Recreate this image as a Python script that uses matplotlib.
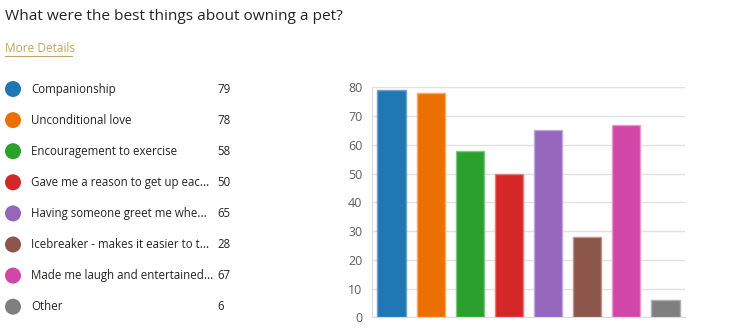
import matplotlib
matplotlib.use('Agg')
from matplotlib import pyplot as plt
from matplotlib.patches import Ellipse

# survey answers
labels = ['Companionship', 'Unconditional love', 'Encouragement to exercise',
          'Gave me a reason to get up eac...', 'Having someone greet me whe...',
          'Icebreaker - makes it easier to t...', 'Made me laugh and entertained...',
          'Other']
counts = [79, 78, 58, 50, 65, 28, 67, 6]
colors = ['#1f77b4', '#ec7000', '#2ca02c', '#d62728',
          '#9467bd', '#8c564b', '#d147a8', '#7f7f7f']
edge_colors = ['#6fa3cf', '#f5a860', '#80c680', '#e87a7a',
               '#c0a8dc', '#b89890', '#e89ad0', '#b0b0b0']
yticks = [0, 10, 20, 30, 40, 50, 60, 70, 80]

plt.rcParams['font.family'] = ['Open Sans', 'DejaVu Sans']

W, H = 751, 330
fig = plt.figure(figsize=(W / 100, H / 100), dpi=100)

# title and link
fig.text(5 / W, 1 - 17 / H, 'What were the best things about owning a pet?',
         fontsize=11.05, color='#252423', va='center', ha='left')
fig.text(5 / W, 1 - 49 / H, 'More Details', fontsize=8.6, color='#c2a566',
         va='center', ha='left')
fig.add_artist(plt.Line2D([5 / W, 72 / W], [1 - 56 / H, 1 - 56 / H],
                          color='#c2a566', linewidth=0.8))

# legend list on the left
row_y0 = 89
row_step = 31.1
for i, (lab, cnt) in enumerate(zip(labels, counts)):
    y = 1 - (row_y0 + i * row_step) / H
    fig.add_artist(Ellipse((13 / W, y), 16 / W, 16 / H, transform=fig.transFigure,
                           facecolor=colors[i], edgecolor='none'))
    fig.text(31 / W, y, lab, fontsize=8.3, color='#252423', va='center', ha='left')
    fig.text(217 / W, y, str(cnt), fontsize=8.3, color='#252423', va='center', ha='left')

# bar chart
ax = fig.add_axes([372 / W, (H - 317.3) / H, (685 - 372) / W, (317.3 - 87.3) / H])
x = list(range(len(counts)))
ax.bar(x, counts, width=0.72, color=colors, edgecolor=edge_colors, linewidth=1.0, zorder=3)
ax.set_xlim(-0.5, 7.5)
ax.set_ylim(0, 80)
ax.set_yticks(yticks)
ax.set_xticks([])
ax.tick_params(axis='y', length=0, pad=7, labelsize=9, labelcolor='#605e5c')
ax.grid(axis='y', color='#e1e1e1', linewidth=1, zorder=0)
for s in ['top', 'right']:
    ax.spines[s].set_visible(False)
ax.spines['left'].set_color('#dcdcdc')
ax.spines['bottom'].set_color('#dcdcdc')

fig.savefig('out.png', dpi=100)
